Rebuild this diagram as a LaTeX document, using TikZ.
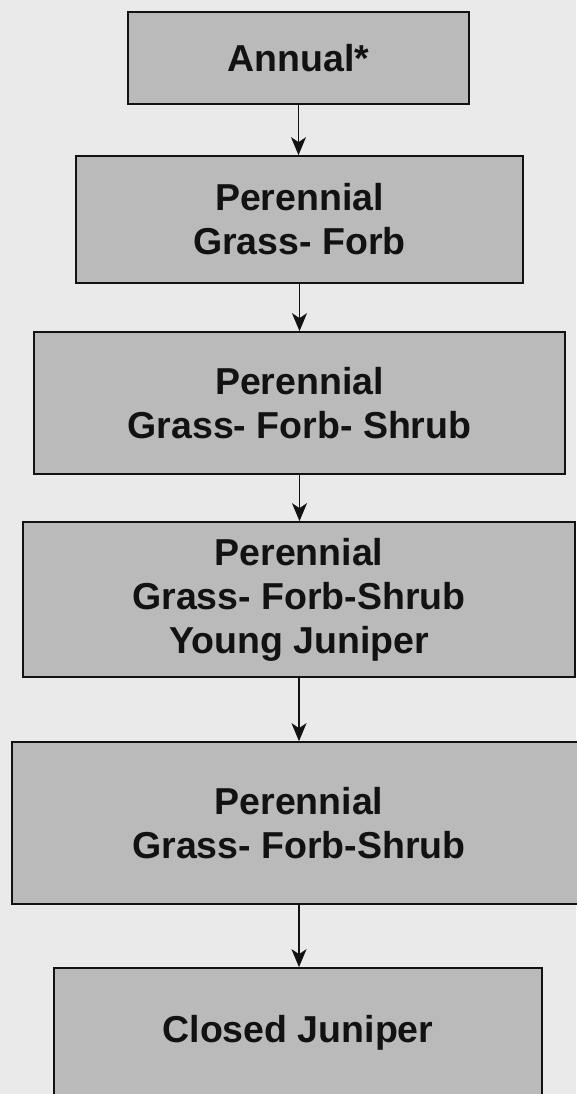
\documentclass[tikz,border=0pt]{standalone}
\usepackage{fontspec}
\setmainfont{Liberation Sans}
\usetikzlibrary{arrows.meta}
\definecolor{pagebg}{RGB}{234,234,234}
\definecolor{boxfill}{RGB}{186,186,186}
\definecolor{inkcol}{RGB}{18,18,18}
\tikzset{
  stagebox/.style={draw=inkcol, line width=1.7pt, fill=boxfill, text=inkcol,
    align=center, inner sep=0pt,
    font=\fontsize{37.5pt}{44pt}\selectfont\bfseries},
  flowarrow/.style={draw=inkcol, line width=1.4pt,
    -{Stealth[length=18pt, width=15pt, inset=5pt]}}
}
\begin{document}
\begin{tikzpicture}[x=1pt, y=-1pt]
\useasboundingbox (0,0) rectangle (576,1094);
\fill[pagebg] (0,0) rectangle (576,1094);
\node[stagebox, minimum width=341pt, minimum height=92pt]  (b1) at (298.5,58)  {Annual*};
\node[stagebox, minimum width=447pt, minimum height=127pt] (b2) at (299.5,219.5) {Perennial\\Grass- Forb};
\node[stagebox, minimum width=531pt, minimum height=142pt] (b3) at (299.5,403) {Perennial\\Grass- Forb- Shrub};
\node[stagebox, minimum width=552pt, minimum height=155pt] (b4) at (299,599.5) {Perennial\\Grass- Forb-Shrub\\Young Juniper};
\node[stagebox, minimum width=574pt, minimum height=162pt] (b5) at (299,823) {Perennial\\Grass- Forb-Shrub};
\node[stagebox, minimum width=488pt, minimum height=130pt] (b6) at (298,1033) {Closed Juniper};
\draw[flowarrow] (b1.south) -- (b1.south |- b2.north);
\draw[flowarrow] (b2.south) -- (b2.south |- b3.north);
\draw[flowarrow] (b3.south) -- (b3.south |- b4.north);
\draw[flowarrow] (b4.south) -- (b4.south |- b5.north);
\draw[flowarrow] (b5.south) -- (b5.south |- b6.north);
\end{tikzpicture}
\end{document}
